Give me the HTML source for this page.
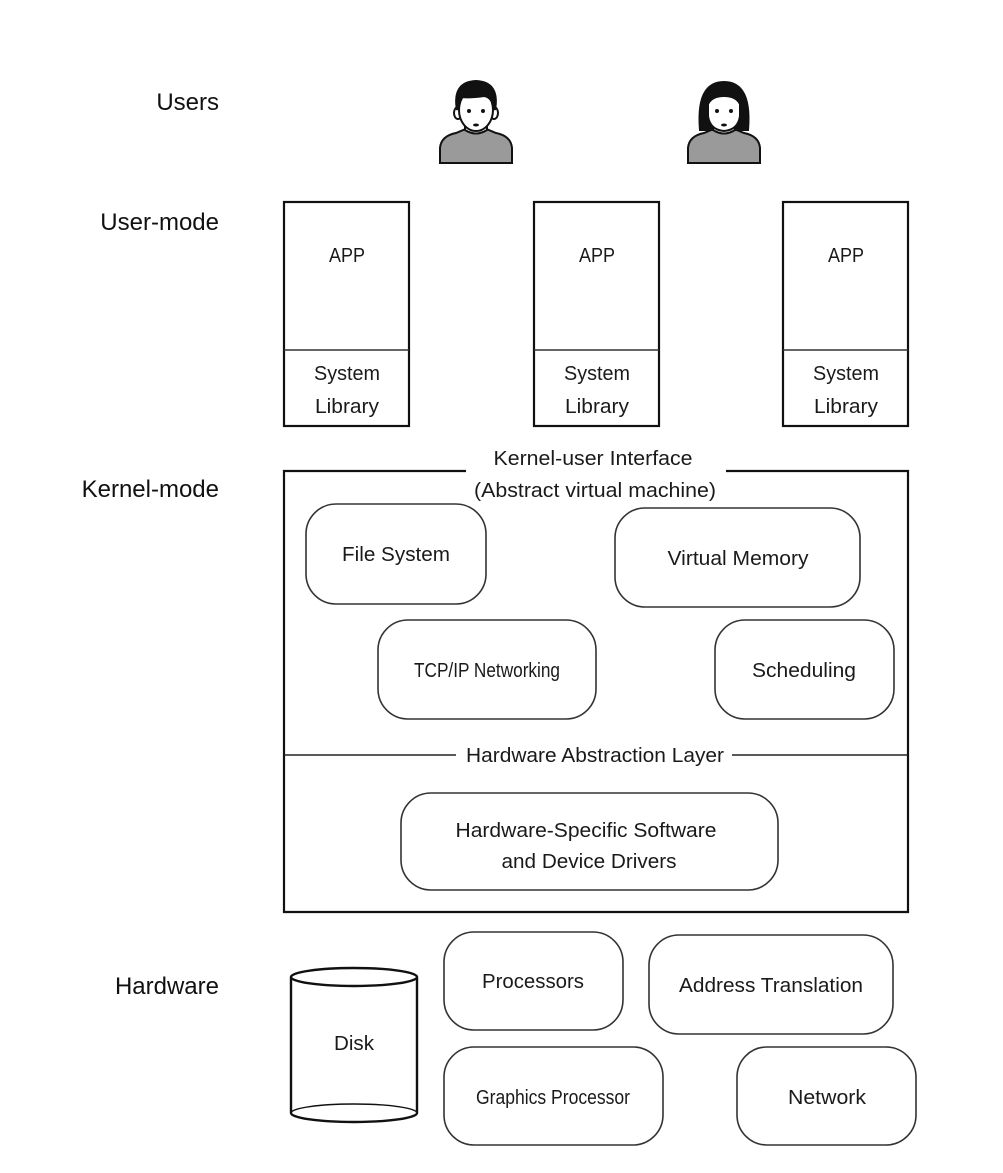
<!DOCTYPE html>
<html><head><meta charset="utf-8"><style>
html,body{margin:0;padding:0;background:#fff;}
svg{display:block;}
.lbl{font-family:"Liberation Sans",sans-serif;font-size:24px;fill:#111;}
.t{font-family:"Liberation Sans",sans-serif;font-size:20px;fill:#1a1a1a;}
</style></head><body>
<svg width="1003" height="1173" viewBox="0 0 1003 1173" xmlns="http://www.w3.org/2000/svg">
<g class="lbl" text-anchor="end">
<text x="219" y="110">Users</text>
<text x="219" y="230">User-mode</text>
<text x="219" y="497">Kernel-mode</text>
<text x="219" y="994">Hardware</text>
</g>

<!-- man -->
<g stroke="#111" stroke-width="2">
<path d="M440 163 L440 148 Q441 136 456 133 L468 128 L484 128 L496 133 Q511 136 512 148 L512 163 Z" fill="#9a9a9a"/>
<path d="M465 118 L465 130 Q476 137 487 130 L487 118 Z" fill="#fff"/>
<ellipse cx="458" cy="113" rx="4" ry="6" fill="#fff"/>
<ellipse cx="494" cy="113" rx="4" ry="6" fill="#fff"/>
<ellipse cx="476" cy="110" rx="17" ry="21" fill="#fff"/>
<path d="M457 110 Q452 82 476 81 Q500 82 495 110 Q492 97 484 96 Q470 98 461 97 Z" fill="#111"/>
</g>
<circle cx="469" cy="111" r="2" fill="#111"/><circle cx="483" cy="111" r="2" fill="#111"/>
<ellipse cx="476" cy="125" rx="3" ry="1.5" fill="#111"/>

<!-- woman -->
<g stroke="#111" stroke-width="2">
<path d="M688 163 L688 148 Q689 136 704 133 L716 128 L732 128 L744 133 Q759 136 760 148 L760 163 Z" fill="#9a9a9a"/>
<path d="M700 130 Q696 82 724 82 Q752 82 748 130 Z" fill="#111"/>
<path d="M713 118 L713 130 Q724 137 735 130 L735 118 Z" fill="#fff"/>
<path d="M708 104 Q712 96 724 96 Q736 96 740 104 L740 116 Q738 130 724 131 Q710 130 708 116 Z" fill="#fff"/>
</g>
<circle cx="717" cy="111" r="2" fill="#111"/><circle cx="731" cy="111" r="2" fill="#111"/>
<ellipse cx="724" cy="125" rx="3" ry="1.5" fill="#111"/>

<!-- app boxes -->
<g fill="#fff" stroke="#111" stroke-width="2.2">
<rect x="284" y="202" width="125" height="224"/>
<rect x="534" y="202" width="125" height="224"/>
<rect x="783" y="202" width="125" height="224"/>
</g>
<g stroke="#333" stroke-width="1.5">
<line x1="284" y1="350" x2="409" y2="350"/>
<line x1="534" y1="350" x2="659" y2="350"/>
<line x1="783" y1="350" x2="908" y2="350"/>
</g>
<g class="t" text-anchor="middle">
<text x="347" y="262" textLength="36" lengthAdjust="spacingAndGlyphs">APP</text><text x="597" y="262" textLength="36" lengthAdjust="spacingAndGlyphs">APP</text><text x="846" y="262" textLength="36" lengthAdjust="spacingAndGlyphs">APP</text>
<text x="347" y="380" textLength="66" lengthAdjust="spacingAndGlyphs">System</text><text x="597" y="380" textLength="66" lengthAdjust="spacingAndGlyphs">System</text><text x="846" y="380" textLength="66" lengthAdjust="spacingAndGlyphs">System</text>
<text x="347" y="413" textLength="64" lengthAdjust="spacingAndGlyphs">Library</text><text x="597" y="413" textLength="64" lengthAdjust="spacingAndGlyphs">Library</text><text x="846" y="413" textLength="64" lengthAdjust="spacingAndGlyphs">Library</text>
</g>

<!-- kernel box -->
<path d="M466 471 L284 471 L284 912 L908 912 L908 471 L726 471" fill="none" stroke="#111" stroke-width="2.2"/>
<line x1="284" y1="755" x2="456" y2="755" stroke="#222" stroke-width="1.5"/>
<line x1="732" y1="755" x2="908" y2="755" stroke="#222" stroke-width="1.5"/>

<g fill="#fff" stroke="#333" stroke-width="1.6">
<rect x="306" y="504" width="180" height="100" rx="30"/>
<rect x="615" y="508" width="245" height="99" rx="30"/>
<rect x="378" y="620" width="218" height="99" rx="30"/>
<rect x="715" y="620" width="179" height="99" rx="30"/>
<rect x="401" y="793" width="377" height="97" rx="30"/>
<rect x="444" y="932" width="179" height="98" rx="30"/>
<rect x="649" y="935" width="244" height="99" rx="30"/>
<rect x="444" y="1047" width="219" height="98" rx="30"/>
<rect x="737" y="1047" width="179" height="98" rx="30"/>
</g>

<!-- disk -->
<g fill="#fff" stroke="#111" stroke-width="2.4">
<path d="M291 977 L291 1113 A63 9 0 0 0 417 1113 L417 977"/>
<ellipse cx="354" cy="977" rx="63" ry="9"/>
</g>
<path d="M291 1113 A63 9 0 0 1 417 1113" fill="none" stroke="#111" stroke-width="1.4"/>

<g class="t" text-anchor="middle">
<text x="593" y="465" textLength="199" lengthAdjust="spacingAndGlyphs">Kernel-user Interface</text>
<text x="595" y="497" textLength="242" lengthAdjust="spacingAndGlyphs">(Abstract virtual machine)</text>
<text x="396" y="561" textLength="108" lengthAdjust="spacingAndGlyphs">File System</text>
<text x="738" y="565" textLength="141" lengthAdjust="spacingAndGlyphs">Virtual Memory</text>
<text x="487" y="677" textLength="146" lengthAdjust="spacingAndGlyphs">TCP/IP Networking</text>
<text x="804" y="677" textLength="104" lengthAdjust="spacingAndGlyphs">Scheduling</text>
<text x="595" y="762" textLength="258" lengthAdjust="spacingAndGlyphs">Hardware Abstraction Layer</text>
<text x="586" y="837" textLength="261" lengthAdjust="spacingAndGlyphs">Hardware-Specific Software</text>
<text x="589" y="868" textLength="175" lengthAdjust="spacingAndGlyphs">and Device Drivers</text>
<text x="533" y="988" textLength="102" lengthAdjust="spacingAndGlyphs">Processors</text>
<text x="771" y="992" textLength="184" lengthAdjust="spacingAndGlyphs">Address Translation</text>
<text x="354" y="1050" textLength="40" lengthAdjust="spacingAndGlyphs">Disk</text>
<text x="553" y="1104" textLength="154" lengthAdjust="spacingAndGlyphs">Graphics Processor</text>
<text x="827" y="1104" textLength="78" lengthAdjust="spacingAndGlyphs">Network</text>
</g>
</svg>
</body></html>
